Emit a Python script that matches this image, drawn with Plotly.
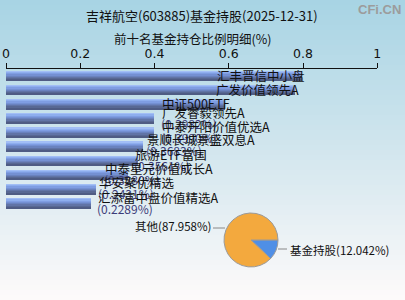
import plotly.graph_objects as go

# ---- data ----
fund_names = ["汇丰晋信中小盘", "广发价值领先A", "中证500ETF", "广发睿毅领先A", "中泰开阳价值优选A",
              "景顺长城景盛双息A", "旅游ETF富国", "中泰星元价值成长A", "华安聚优精选", "汇添富中盘价值精选A"]
fund_pct = [0.7972, 0.7790, 0.5911, 0.3982, 0.3990, 0.3683, 0.3561, 0.3280, 0.2431, 0.2289]
pie_labels = ["基金持股", "其他"]
pie_values = [12.042, 87.958]
title_text = "吉祥航空(603885)基金持股(2025-12-31)"
subtitle_text = "前十名基金持仓比例明细(%)"
tick_vals = [0, 0.2, 0.4, 0.6, 0.8, 1]
tick_text = ["0", "0.2", "0.4", "0.6", "0.8", "1"]

# ---- layout helpers (pixel geometry) ----
W, H = 405, 300
x0px, x1px = 6, 377.3
ytop, ybot = 69, 210.6
label_dx = [-87, -81, -65, 6, 6, 2, -5, -25, 1, 5]
label_dy = [1, 1, 1, 6.5, 6.7, 7, 7, 7.2, 6.4, 6.5]
show_pct = [False, False, False, True, True, True, True, True, True, True]
FONT = "Noto Sans CJK SC, Tahoma, sans-serif"

fig = go.Figure()

# background gradient
def lerp(a, b, t):
    return tuple(int(round(a[i] + (b[i] - a[i]) * t)) for i in range(3))
c_top, c_mid, c_bot = (168, 212, 228), (210, 230, 238), (253, 250, 250)
n = 60
shapes = []
for k in range(n):
    t = k / (n - 1)
    c = lerp(c_top, c_mid, t * 2) if t < 0.5 else lerp(c_mid, c_bot, (t - 0.5) * 2)
    shapes.append(dict(type="rect", xref="paper", yref="paper", x0=0, x1=1,
                       y0=1 - (k + 1) / n, y1=1 - k / n, fillcolor="rgb(%d,%d,%d)" % c,
                       line=dict(width=0), layer="below"))

# striped gradient bars
stripe_colors = ["#A2BEF6", "#8EAEEE", "#7F9DE2", "#7490D2", "#6A82BE", "#6174A6", "#586893", "#4F5C84"]
bw = 0.7
ns = len(stripe_colors)
for i, col in enumerate(stripe_colors):
    fig.add_trace(go.Bar(
        x=fund_pct, y=list(range(len(fund_names))), orientation="h",
        width=bw / ns, offset=-bw / 2 + i * bw / ns,
        marker=dict(color=col, line=dict(width=0)),
        hoverinfo="skip", showlegend=False, xaxis="x", yaxis="y"))

# pie
cx, cy, r = 251, 240, 27
fig.add_trace(go.Pie(
    labels=pie_labels, values=pie_values, sort=False, direction="clockwise", rotation=90,
    marker=dict(colors=["#4F8FE6", "#F3A93E"], line=dict(color="#9a9a9a", width=1)),
    textinfo="none", showlegend=False, hoverinfo="skip",
    domain=dict(x=[(cx - r) / W, (cx + r) / W], y=[(H - cy - r) / H, (H - cy + r) / H])))

def pann(text, x, y, xanchor="center", size=12, color="#111", family=FONT):
    return dict(text=text, x=x / W, y=1 - y / H, xref="paper", yref="paper",
                xanchor=xanchor, yanchor="middle", showarrow=False,
                font=dict(size=size, color=color, family=family))

annotations = []
annotations.append(pann(title_text, 202, 15, size=13))
annotations.append(pann(subtitle_text, 192, 38, size=12.5))
annotations.append(pann("<b>CFi.CN</b>", 379, 10, size=13, color="#9c9c9c", family="Arial"))

# pct labels first (underneath), then names
for i, v in enumerate(fund_pct):
    if not show_pct[i]:
        continue
    annotations.append(dict(text="(%.4f%%)" % v, x=v, y=i, xref="x", yref="y", xanchor="left",
                            yanchor="middle", xshift=label_dx[i] - 1, yshift=label_dy[i] - 11,
                            showarrow=False, font=dict(size=12, color="#3c3c78", family=FONT)))
for i, (nm, v) in enumerate(zip(fund_names, fund_pct)):
    annotations.append(dict(text=nm, x=v, y=i, xref="x", yref="y", xanchor="left",
                            yanchor="middle", xshift=label_dx[i], yshift=label_dy[i],
                            showarrow=False, font=dict(size=12.5, color="#111", family=FONT)))

# pie labels
other_label = "%s(%.3f%%)" % (pie_labels[1], pie_values[1])
fund_label = "%s(%.3f%%)" % (pie_labels[0], pie_values[0])
annotations.append(pann(other_label, 213, 226, xanchor="right", size=11.5))
annotations.append(pann(fund_label, 288, 250, xanchor="left", size=11.5))
shapes.append(dict(type="line", xref="paper", yref="paper", x0=213 / W, x1=225 / W,
                   y0=1 - 228 / H, y1=1 - 228 / H, line=dict(color="#888", width=1)))
shapes.append(dict(type="line", xref="paper", yref="paper", x0=278 / W, x1=287 / W,
                   y0=1 - 249 / H, y1=1 - 249 / H, line=dict(color="#888", width=1)))

fig.update_layout(
    width=W, height=H, margin=dict(l=0, r=0, t=0, b=0, autoexpand=False),
    paper_bgcolor="white", plot_bgcolor="rgba(0,0,0,0)",
    barmode="overlay", bargap=0,
    shapes=shapes, annotations=annotations,
    xaxis=dict(domain=[x0px / W, x1px / W], range=[0, 1], side="top", anchor="y", automargin=False,
               tickvals=tick_vals, ticktext=tick_text, ticks="outside", ticklen=5,
               tickcolor="#111", showline=True, linecolor="#111", linewidth=1,
               showgrid=False, zeroline=False, tickfont=dict(size=12.5, color="#111", family="Tahoma, DejaVu Sans")),
    yaxis=dict(domain=[(H - ybot) / H, (H - ytop) / H], range=[len(fund_names) - 0.5, -0.5],
               automargin=False,
               showticklabels=False, showgrid=False, zeroline=False, showline=False, ticks=""),
)

fig.write_html("out.html")
